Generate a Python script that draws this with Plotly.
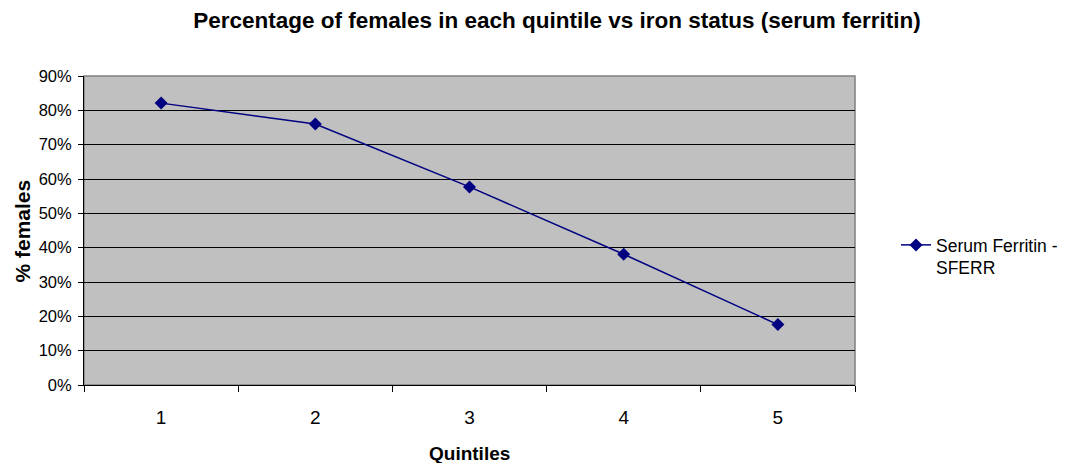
import plotly.graph_objects as go

# Quintile categories and the share of females in each (serum ferritin)
quintiles = ["1", "2", "3", "4", "5"]
pct_females = [0.821, 0.760, 0.577, 0.381, 0.176]
series_name = "Serum Ferritin -<br>SFERR"

y_ticks = [0.0, 0.1, 0.2, 0.3, 0.4, 0.5, 0.6, 0.7, 0.8, 0.9]

FONT = "Liberation Sans, Arial, sans-serif"
NAVY = "#000080"

W, H = 1070, 463
L, R, T, B = 84, 215, 76, 78
PW, PH = W - L - R, H - T - B

fig = go.Figure()
fig.add_trace(go.Scatter(
    x=quintiles,
    y=pct_females,
    mode="lines+markers",
    name=series_name,
    line=dict(color=NAVY, width=1.5),
    marker=dict(symbol="diamond", size=10, color=NAVY),
))

fig.update_layout(
    width=W,
    height=H,
    margin=dict(l=L, r=R, t=T, b=B, autoexpand=False),
    paper_bgcolor="white",
    plot_bgcolor="#C0C0C0",
    font=dict(family=FONT, color="black"),
    title=dict(
        text="<b>Percentage of females in each quintile vs iron status (serum ferritin)</b>",
        x=557 / W,
        xanchor="center",
        y=1 - 20 / H,
        yanchor="middle",
        font=dict(size=22.5, family=FONT),
    ),
    xaxis=dict(
        type="category",
        range=[-0.5, 4.5],
        tickson="boundaries",
        ticks="outside",
        ticklen=6,
        tickcolor="black",
        ticklabelstandoff=15,
        showgrid=False,
        showline=True,
        linecolor="black",
        linewidth=1,
        tickfont=dict(size=19),
        zeroline=False,
    ),
    yaxis=dict(
        range=[0, 0.9],
        tickvals=y_ticks,
        tickformat=".0%",
        ticks="outside",
        ticklen=5,
        tickcolor="black",
        ticklabelstandoff=3,
        showgrid=True,
        gridcolor="black",
        gridwidth=1,
        showline=True,
        linecolor="black",
        linewidth=1,
        tickfont=dict(size=16.5),
        zeroline=False,
    ),
    showlegend=True,
    legend=dict(
        x=(896 - L) / PW,
        xanchor="left",
        y=(H - B - 227) / PH,
        yanchor="top",
        valign="top",
        font=dict(size=17.5),
        bgcolor="rgba(0,0,0,0)",
        itemwidth=30,
    ),
    shapes=[dict(
        type="rect", xref="paper", yref="paper",
        x0=0, x1=1, y0=0, y1=1,
        line=dict(color="#808080", width=1.5),
        layer="below",
    )],
    annotations=[
        # axis titles
        dict(text="<b>Quintiles</b>", xref="paper", yref="paper",
             x=0.5, y=-(453 - (H - B)) / PH,
             xanchor="center", yanchor="middle", showarrow=False,
             font=dict(size=19)),
        dict(text="<b>% females</b>", xref="paper", yref="paper",
             x=-(L - 22) / PW, y=0.5,
             xanchor="center", yanchor="middle", showarrow=False,
             textangle=-90, font=dict(size=21)),
    ],
)

fig.write_html("out.html")
